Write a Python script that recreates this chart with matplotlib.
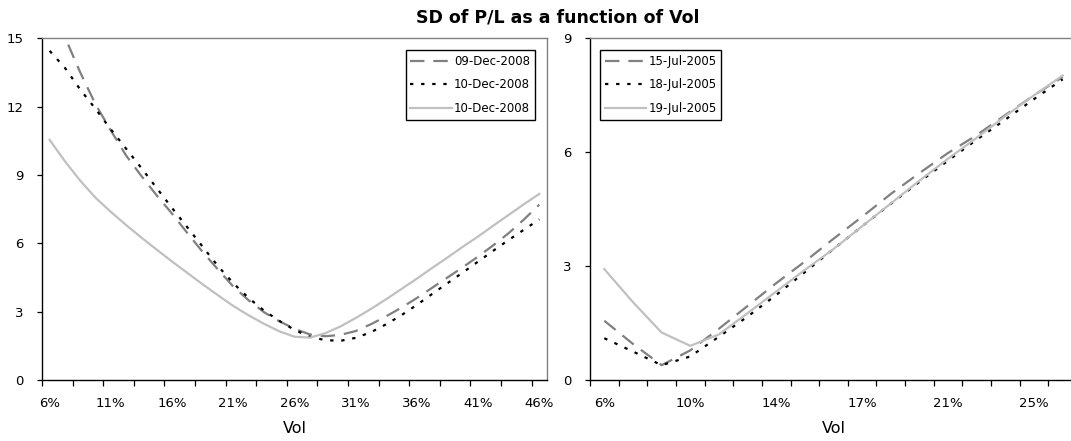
import matplotlib
matplotlib.use('Agg')
import matplotlib.pyplot as plt
from matplotlib.ticker import FixedLocator, NullFormatter

# left panel: Dec-2008 curves, vol in %
vol_dec = [6, 7.25, 8.5, 9.75, 11, 12.25, 13.5, 14.75, 16, 17.25, 18.5,
           19.75, 21, 22.25, 23.5, 24.75, 26, 27.25, 28.5, 29.75, 31, 32.25,
           33.5, 34.75, 36, 37.25, 38.5, 39.75, 41, 42.25, 43.5, 44.75, 46]
sd_09dec = [16.6, 15.05, 13.5, 12.1, 10.95, 9.85, 8.95, 8.1, 7.3, 6.45, 5.62,
            4.85, 4.1, 3.5, 2.98, 2.58, 2.25, 2.0, 1.92, 1.98, 2.15, 2.45,
            2.8, 3.18, 3.6, 4.05, 4.5, 4.95, 5.42, 5.92, 6.45, 7.05, 7.7]
sd_10dec_a = [14.45, 13.7, 12.75, 11.9, 11.0, 10.15, 9.3, 8.42, 7.55, 6.7, 5.85,
              5.0, 4.25, 3.6, 3.05, 2.6, 2.2, 1.9, 1.75, 1.72, 1.85, 2.1,
              2.45, 2.85, 3.3, 3.78, 4.25, 4.72, 5.2, 5.68, 6.15, 6.6, 7.05]
sd_10dec_b = [10.54, 9.6, 8.75, 8.0, 7.38, 6.8, 6.25, 5.72, 5.2, 4.7, 4.2,
              3.72, 3.25, 2.84, 2.47, 2.14, 1.9, 1.86, 2.05, 2.35, 2.72, 3.12,
              3.55, 4.0, 4.45, 4.92, 5.38, 5.85, 6.3, 6.78, 7.25, 7.72, 8.17]
labels_dec = ['09-Dec-2008', '10-Dec-2008', '10-Dec-2008']
xticklabels_dec = ['6%', '11%', '16%', '21%', '26%', '31%', '36%', '41%', '46%']
yticks_dec = [0, 3, 6, 9, 12, 15]

# right panel: Jul-2005 curves
vol_jul = [6, 7.25, 8.5, 9.75, 11, 12.25, 13.5, 14.75, 16, 17.25, 18.5,
           19.75, 21, 22.25, 23.5, 24.75, 26]
sd_15jul = [1.56, 0.95, 0.39, 0.78, 1.35, 1.95, 2.55, 3.12, 3.72, 4.3, 4.9,
            5.45, 5.98, 6.45, 6.98, 7.5, 7.98]
sd_18jul = [1.1, 0.75, 0.39, 0.62, 1.14, 1.67, 2.24, 2.84, 3.45, 4.05, 4.64,
            5.22, 5.78, 6.33, 6.86, 7.4, 7.92]
sd_19jul = [2.92, 2.05, 1.25, 0.9, 1.2, 1.76, 2.33, 2.9, 3.45, 4.05, 4.65,
            5.25, 5.83, 6.38, 6.95, 7.5, 8.02]
labels_jul = ['15-Jul-2005', '18-Jul-2005', '19-Jul-2005']
xticklabels_jul = ['6%', '10%', '14%', '17%', '21%', '25%']
yticks_jul = [0, 3, 6, 9]

plt.rcParams['font.family'] = ['DejaVu Sans']

W, H = 1071, 441
fig = plt.figure(figsize=(W / 100, H / 100), dpi=100)
fig.patch.set_facecolor('white')

ax1 = fig.add_axes([42 / W, (H - 380) / H, 505 / W, 341.7 / H])
ax2 = fig.add_axes([590 / W, (H - 380) / H, 487 / W, 341.7 / H])

LW = 1.6
styles = [
    dict(color='#808080', linestyle=(0, (6.5, 4))),
    dict(color='#000000', linestyle=(0, (1.5, 3.5))),
    dict(color='#c0c0c0', linestyle='-'),
]


def setup(ax, vols, series, labels, ylim, yticks, xlabels, label_every,
          tick_every, leg_anchor, leg_loc):
    for ys, lab, st in zip(series, labels, styles):
        ax.plot(vols, ys, lw=LW, label=lab, **st)

    step = vols[1] - vols[0]
    ax.set_xlim(vols[0] - step / 2, vols[-1] + step / 2)
    ax.set_ylim(*ylim)

    # labels sit on categories, tick marks sit between them
    ax.xaxis.set_major_locator(FixedLocator(vols[::label_every]))
    ax.set_xticklabels(xlabels)
    ax.xaxis.set_minor_locator(FixedLocator([v - step / 2 for v in vols[::tick_every]]))
    ax.xaxis.set_minor_formatter(NullFormatter())
    ax.tick_params(axis='x', which='major', length=0, pad=12.5, labelsize=9.5)
    ax.tick_params(axis='x', which='minor', direction='out', length=4.5,
                   width=0.9, color='black')

    ax.set_yticks(yticks)
    ax.tick_params(axis='y', direction='out', length=3.5, width=0.9,
                   pad=9.5, labelsize=9.5)

    for side in ('left', 'bottom'):
        ax.spines[side].set_color('black')
        ax.spines[side].set_linewidth(1.0)
    for side in ('top', 'right'):
        ax.spines[side].set_color('#808080')
        ax.spines[side].set_linewidth(1.0)

    ax.set_xlabel('Vol', fontsize=11.5, labelpad=8)

    leg = ax.legend(loc=leg_loc, bbox_to_anchor=leg_anchor, fontsize=8.5,
                    frameon=True, fancybox=False, edgecolor='black',
                    framealpha=1, handlelength=3.5, handletextpad=0.2,
                    labelspacing=0.9, borderpad=0.4, borderaxespad=0)
    leg.get_frame().set_linewidth(1.0)


setup(ax1, vol_dec, [sd_09dec, sd_10dec_a, sd_10dec_b], labels_dec, (0, 15),
      yticks_dec, xticklabels_dec, 4, 2, (0.976, 0.966), 'upper right')
setup(ax2, vol_jul, [sd_15jul, sd_18jul, sd_19jul], labels_jul, (0, 9),
      yticks_jul, xticklabels_jul, 3, 1, (0.0205, 0.966), 'upper left')

fig.text(558 / W, 1 - 17 / H, 'SD of P/L as a function of Vol', ha='center',
         va='center', fontsize=12.5, fontweight='bold')

fig.savefig('out.png', dpi=100)
